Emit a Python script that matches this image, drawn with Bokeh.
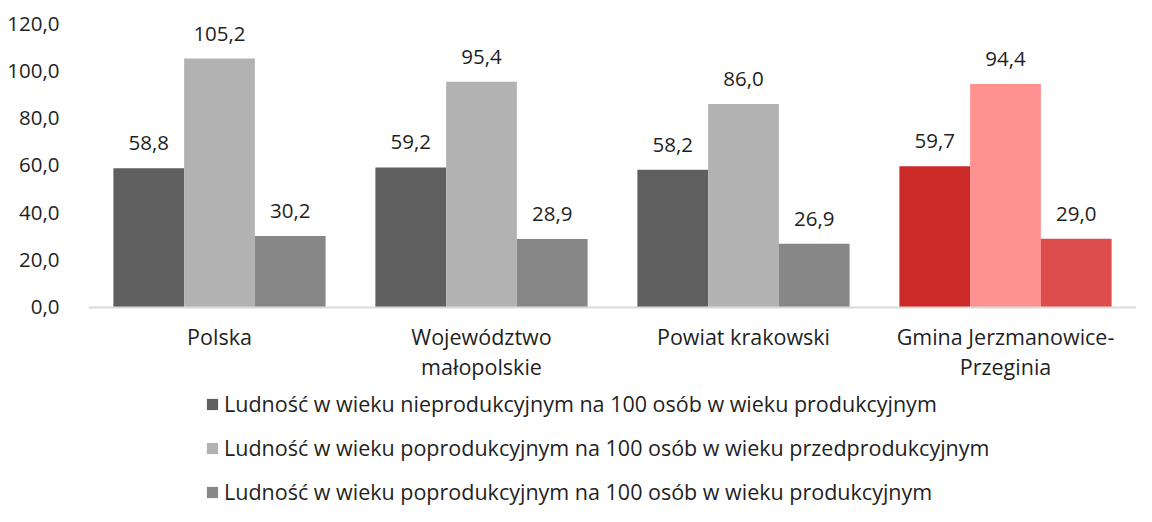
from bokeh.plotting import figure
from bokeh.models import (ColumnDataSource, FactorRange, Range1d, Legend, LegendItem,
                          FixedTicker, LabelSet, Span)
from bokeh.core.properties import value
from bokeh.transform import dodge
from bokeh.embed import file_html
from bokeh.resources import INLINE

categories = ["Polska", "Województwo małopolskie", "Powiat krakowski", "Gmina Jerzmanowice-Przeginia"]
label_line1 = ["Polska", "Województwo", "Powiat krakowski", "Gmina Jerzmanowice-"]
label_line2 = ["", "małopolskie", "", "Przeginia"]
series_names = [
    "Ludność w wieku nieprodukcyjnym na 100 osób w wieku produkcyjnym",
    "Ludność w wieku poprodukcyjnym na 100 osób w wieku przedprodukcyjnym",
    "Ludność w wieku poprodukcyjnym na 100 osób w wieku produkcyjnym",
]
s1 = [58.8, 59.2, 58.2, 59.7]
s2 = [105.2, 95.4, 86.0, 94.4]
s3 = [30.2, 28.9, 26.9, 29.0]
y_ticks = [0, 20, 40, 60, 80, 100, 120]

gray_colors = ["#5f5f5f", "#b2b2b2", "#878787"]
red_colors = ["#cc2929", "#ff9191", "#dd4d4d"]

FONT = "Open Sans"
TXT = "#1f1f1f"

def fmt(v):
    return f"{v:.1f}".replace(".", ",")

p = figure(x_range=FactorRange(*categories, range_padding=0), y_range=Range1d(-84.1, 120),
           width=1136, height=506, output_backend="svg", toolbar_location=None,
           min_border_left=88, min_border_right=0, min_border_top=23, min_border_bottom=0)
p.xgrid.visible = False
p.ygrid.visible = False
p.outline_line_color = None
p.xaxis.visible = False

p.add_layout(Span(location=0, dimension="width", line_color="#d9d9d9", line_width=2))

offsets = [-0.27, 0.0, 0.27]
series = [s1, s2, s3]
items = []
for i, (vals, off) in enumerate(zip(series, offsets)):
    colors = [gray_colors[i]] * (len(categories) - 1) + [red_colors[i]]
    src = ColumnDataSource(dict(cat=categories, val=vals, color=colors,
                                lab=[fmt(v) for v in vals]))
    r = p.vbar(x=dodge("cat", off, range=p.x_range), top="val", width=0.27, source=src,
               fill_color="color", line_color=None)
    items.append(LegendItem(label=series_names[i], renderers=[r], index=0))
    p.add_layout(LabelSet(x=dodge("cat", off, range=p.x_range), y="val", text="lab", source=src,
                          text_align="center", text_baseline="middle", y_offset=25,
                          text_font=value(FONT), text_font_size="20.5px", text_color=TXT))

# category labels (two lines)
cat_src = ColumnDataSource(dict(cat=categories, l1=label_line1, l2=label_line2,
                                y0=[0] * len(categories)))
for txt, off in (("l1", -29), ("l2", -59)):
    p.add_layout(LabelSet(x="cat", y="y0", text=txt, source=cat_src, text_align="center",
                          text_baseline="middle", y_offset=off, text_font=value(FONT),
                          text_font_size="21.5px", text_color=TXT))

p.yaxis.ticker = FixedTicker(ticks=y_ticks)
p.yaxis.major_label_overrides = {t: fmt(t) for t in y_ticks}
p.yaxis.axis_line_color = None
p.yaxis.major_tick_line_color = None
p.yaxis.minor_tick_line_color = None
p.yaxis.major_label_text_font = FONT
p.yaxis.major_label_text_font_size = "20.5px"
p.yaxis.major_label_text_color = TXT
p.yaxis.major_label_standoff = 23

legend = Legend(items=items, orientation="vertical", location=(117, 0),
                label_text_font=FONT, label_text_font_size="21.5px", label_text_color=TXT,
                glyph_width=14, glyph_height=14, label_height=22, spacing=15,
                label_standoff=5, border_line_color=None, background_fill_alpha=0,
                padding=0, margin=0)
p.add_layout(legend)

open("out.html", "w").write(file_html(p, INLINE))
